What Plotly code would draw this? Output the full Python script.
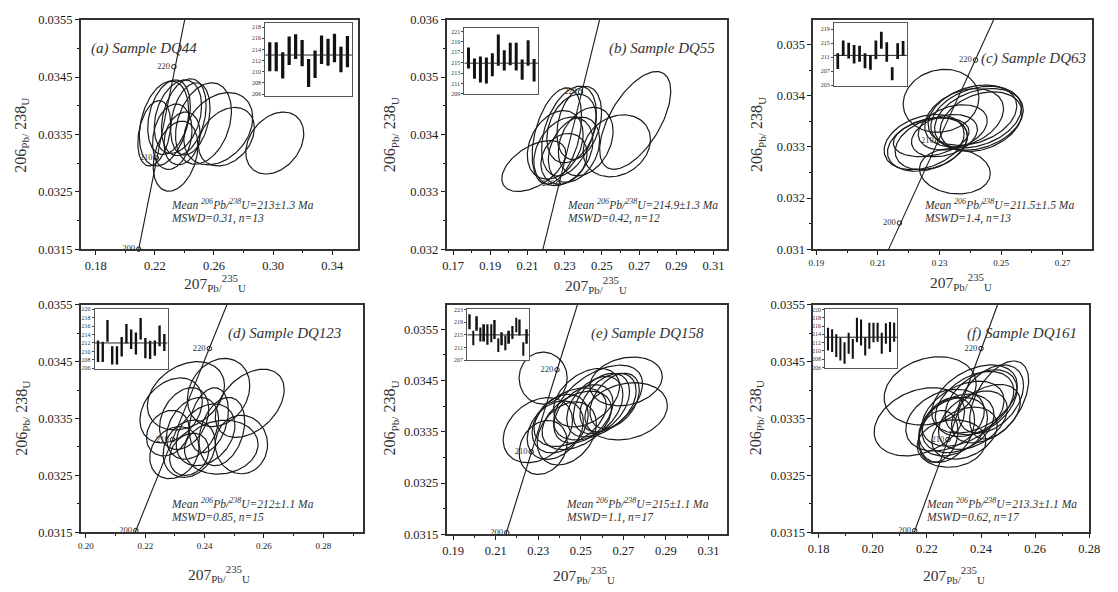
import numpy as np
import plotly.graph_objects as go

W, H = 1118, 592

# ---------------- data ----------------
# ellipses: [207Pb/235U centre, 206Pb/238U centre, x half-width, y half-height, rho]
ELL_A = [
    [0.2196, 0.03352, 0.0111, 0.00057, 0.3], [0.2262, 0.03369, 0.0167, 0.00074, 0.3],
    [0.2296, 0.03380, 0.0144, 0.00065, 0.3], [0.2356, 0.03381, 0.0160, 0.00064, 0.3],
    [0.2396, 0.03380, 0.0151, 0.00067, 0.3], [0.2440, 0.03377, 0.0133, 0.00063, 0.3],
    [0.2529, 0.03369, 0.0189, 0.00071, 0.3], [0.2629, 0.03360, 0.0233, 0.00063, 0.3],
    [0.2684, 0.03346, 0.0189, 0.00051, 0.3], [0.3011, 0.03335, 0.0196, 0.00054, 0.3],
    [0.2340, 0.03312, 0.0151, 0.00061, 0.3], [0.2318, 0.03346, 0.0133, 0.00057, 0.2],
    [0.2384, 0.03343, 0.0122, 0.00046, 0.2],
]
ELL_B = [
    [0.2134, 0.033449, 0.0172, 0.000443, 0.5], [0.2679, 0.034244, 0.0191, 0.000852, 0.6],
    [0.2580, 0.033801, 0.0181, 0.000540, 0.2], [0.2258, 0.033972, 0.0133, 0.000840, 0.4],
    [0.2323, 0.034057, 0.0147, 0.000784, 0.4], [0.2337, 0.034102, 0.0133, 0.000597, 0.3],
    [0.2249, 0.033818, 0.0150, 0.000597, 0.3], [0.2293, 0.033705, 0.0159, 0.000597, 0.3],
    [0.2350, 0.033733, 0.0138, 0.000568, 0.3], [0.2413, 0.033875, 0.0147, 0.000597, 0.3],
    [0.2296, 0.033574, 0.0124, 0.000443, 0.2], [0.2378, 0.034199, 0.0120, 0.000636, 0.3],
]
ELL_C = [
    [0.2305, 0.033902, 0.0123, 0.000616, 0.1], [0.2350, 0.032524, 0.0115, 0.000444, -0.1],
    [0.2250, 0.033095, 0.0130, 0.000540, 0.3], [0.2261, 0.033051, 0.0130, 0.000527, 0.3],
    [0.2407, 0.033622, 0.0144, 0.000590, 0.3], [0.2419, 0.033584, 0.0147, 0.000603, 0.3],
    [0.2428, 0.033540, 0.0144, 0.000603, 0.3], [0.2435, 0.033495, 0.0133, 0.000584, 0.3],
    [0.2380, 0.033571, 0.0128, 0.000571, 0.3], [0.2343, 0.033381, 0.0112, 0.000444, 0.3],
    [0.2316, 0.033222, 0.0107, 0.000413, 0.3], [0.2273, 0.033190, 0.0123, 0.000381, 0.3],
    [0.2273, 0.033063, 0.0117, 0.000508, 0.3],
]
ELL_D = [
    [0.2447, 0.033957, 0.0105, 0.000600, 0.2], [0.2552, 0.033768, 0.0116, 0.000600, 0.4],
    [0.2287, 0.033643, 0.0105, 0.000571, 0.3], [0.2337, 0.033900, 0.0130, 0.000600, 0.3],
    [0.2524, 0.033043, 0.0088, 0.000514, 0.0], [0.2456, 0.032997, 0.0124, 0.000474, 0.1],
    [0.2298, 0.032900, 0.0083, 0.000457, 0.2], [0.2348, 0.032969, 0.0088, 0.000503, 0.2],
    [0.2331, 0.033500, 0.0083, 0.000543, 0.3], [0.2359, 0.033328, 0.0088, 0.000543, 0.3],
    [0.2403, 0.033214, 0.0099, 0.000543, 0.3], [0.2458, 0.033271, 0.0077, 0.000600, 0.3],
    [0.2276, 0.033243, 0.0072, 0.000400, 0.2], [0.2348, 0.032871, 0.0066, 0.000371, 0.2],
    [0.2414, 0.033471, 0.0066, 0.000571, 0.3],
]
ELL_E = [
    [0.2323, 0.034548, 0.0113, 0.000508, 0.0], [0.2298, 0.033532, 0.0163, 0.000635, 0.3],
    [0.2323, 0.033195, 0.0113, 0.000527, 0.2], [0.2713, 0.034484, 0.0170, 0.000476, 0.2],
    [0.2713, 0.033900, 0.0194, 0.000559, 0.2], [0.2581, 0.034071, 0.0209, 0.000730, 0.5],
    [0.2450, 0.033786, 0.0170, 0.000571, 0.4], [0.2481, 0.033722, 0.0163, 0.000571, 0.4],
    [0.2512, 0.033849, 0.0139, 0.000571, 0.4], [0.2566, 0.033989, 0.0132, 0.000590, 0.4],
    [0.2597, 0.034052, 0.0132, 0.000590, 0.4], [0.2628, 0.034071, 0.0132, 0.000571, 0.4],
    [0.2659, 0.034103, 0.0116, 0.000540, 0.4], [0.2403, 0.033659, 0.0132, 0.000571, 0.3],
    [0.2380, 0.033532, 0.0132, 0.000571, 0.3], [0.2434, 0.033468, 0.0139, 0.000616, 0.3],
    [0.2527, 0.034167, 0.0155, 0.000571, 0.4],
]
ELL_F = [
    [0.2212, 0.033986, 0.0170, 0.000600, 0.2], [0.2172, 0.033443, 0.0167, 0.000600, 0.3],
    [0.2467, 0.033826, 0.0109, 0.000686, 0.5], [0.2291, 0.033060, 0.0127, 0.000417, 0.1],
    [0.2376, 0.033843, 0.0158, 0.000600, 0.4], [0.2376, 0.033757, 0.0145, 0.000571, 0.4],
    [0.2400, 0.033786, 0.0133, 0.000571, 0.4], [0.2333, 0.033586, 0.0152, 0.000571, 0.4],
    [0.2297, 0.033357, 0.0127, 0.000514, 0.3], [0.2315, 0.033414, 0.0133, 0.000514, 0.3],
    [0.2273, 0.033300, 0.0103, 0.000571, 0.3], [0.2418, 0.033586, 0.0127, 0.000514, 0.4],
    [0.2370, 0.033471, 0.0127, 0.000514, 0.4], [0.2242, 0.033186, 0.0073, 0.000457, 0.2],
    [0.2339, 0.033243, 0.0121, 0.000457, 0.3], [0.2436, 0.033843, 0.0121, 0.000600, 0.4],
    [0.2267, 0.033471, 0.0145, 0.000543, 0.3],
]

# concordia: line end points and age ticks
CONC_LINE_X = [[0.2091, 0.2402], [0.2183, 0.2488], [0.2135, 0.2476],
               [0.2166, 0.2475], [0.2148, 0.2484], [0.2153, 0.2461]]
CONC_LINE_Y = [[0.0315, 0.0355], [0.032, 0.036], [0.031, 0.03549],
               [0.0315, 0.0355], [0.0315, 0.03598], [0.0315, 0.0355]]
CONC_AGES = [[200, 210, 220], [210, 220], [200, 210, 220],
             [200, 210, 220], [200, 210, 220], [200, 210, 220]]
CONC_PT_X = [[0.2091, 0.2210, 0.2329], [0.2266, 0.2385], [0.2170, 0.2294, 0.2417],
             [0.2168, 0.2292, 0.2416], [0.2152, 0.2267, 0.2388], [0.2155, 0.2278, 0.2400]]
CONC_PT_Y = [[0.0315, 0.03309, 0.03468], [0.03314, 0.03474], [0.03151, 0.03311, 0.0347],
             [0.03153, 0.03313, 0.03473], [0.03153, 0.03311, 0.03471], [0.03153, 0.03313, 0.03473]]

# weighted-mean insets: 206Pb/238U age error bars (Ma)
BAR_A_HI = [215.3, 215.3, 213.5, 216.3, 216.7, 215.7, 212.3, 213.8, 216.5, 215.9, 216.8, 214.5, 216.4]
BAR_A_LO = [210.1, 210.1, 208.8, 211.2, 212.3, 211.0, 207.3, 208.9, 211.4, 211.1, 211.7, 209.9, 210.8]
BAR_B_HI = [217.9, 215.8, 216.2, 216.0, 216.8, 220.4, 217.4, 218.8, 218.8, 215.6, 219.3, 215.7]
BAR_B_LO = [213.9, 211.9, 211.2, 211.0, 212.4, 214.4, 213.5, 214.5, 213.5, 211.7, 214.4, 211.4]
BAR_C_HI = [212.1, 215.8, 215.1, 214.5, 214.3, 212.1, 211.6, 215.8, 218.3, 215.3, 208.1, 215.0, 215.6]
BAR_C_LO = [207.6, 211.4, 210.6, 209.2, 209.7, 207.8, 207.4, 210.4, 213.4, 209.7, 204.4, 210.5, 211.4]
BAR_D_HI = [212.6, 212.3, 217.4, 211.2, 211.2, 213.4, 216.5, 215.2, 214.5, 217.9, 213.2, 212.5, 212.6, 216.1, 214.1]
BAR_D_LO = [207.5, 207.5, 212.3, 206.9, 206.9, 208.8, 211.9, 210.6, 209.3, 212.8, 208.4, 208.2, 209.0, 211.2, 210.1]
BAR_E_HI = [221.5, 216.3, 220.9, 217.3, 218.4, 218.4, 218.4, 219.7, 213.9, 215.8, 214.8, 216.3, 217.8, 220.4, 219.9, 212.7, 216.8]
BAR_E_LO = [216.8, 211.7, 216.3, 212.9, 212.9, 211.9, 212.7, 213.7, 209.6, 211.7, 210.1, 212.2, 213.7, 215.8, 214.8, 208.4, 212.2]
BAR_F_HI = [215.6, 215.2, 214.0, 213.2, 212.1, 214.4, 212.9, 218.0, 217.6, 213.3, 216.8, 216.8, 216.8, 214.4, 216.7, 217.0, 216.8]
BAR_F_LO = [210.1, 209.7, 208.5, 207.7, 206.9, 209.3, 208.1, 212.1, 211.3, 208.9, 210.5, 212.1, 212.2, 209.3, 211.7, 209.7, 212.2]
MEAN_AGE = [213, 214.9, 211.5, 212, 215, 213.3]

LABELS = ["(a) Sample DQ44", "(b) Sample DQ55", "(c) Sample DQ63",
          "(d) Sample DQ123", "(e) Sample DQ158", "(f) Sample DQ161"]
MEAN_TXT = ["213±1.3", "214.9±1.3", "211.5±1.5", "212±1.1", "215±1.1", "213.3±1.1"]
MSWD = ["0.31", "0.42", "1.4", "0.85", "1.1", "0.62"]
N_SPOTS = [13, 12, 13, 15, 17, 17]

ELLS = [ELL_A, ELL_B, ELL_C, ELL_D, ELL_E, ELL_F]
BARS_HI = [BAR_A_HI, BAR_B_HI, BAR_C_HI, BAR_D_HI, BAR_E_HI, BAR_F_HI]
BARS_LO = [BAR_A_LO, BAR_B_LO, BAR_C_LO, BAR_D_LO, BAR_E_LO, BAR_F_LO]

# ---------------- layout geometry (pixels) ----------------
MAIN_BOX = [(77, 358, 13, 248), (448, 732, 13, 248), (820, 1103, 13, 248),
            (77, 363, 305, 538), (448, 732, 305, 540), (820, 1100, 305, 538)]
INSET_BOX = [(264, 352, 16, 91), (466, 541, 21, 89), (841, 915, 16, 81),
             (91, 165, 309, 371), (469, 532, 309, 362), (832, 905, 309, 370)]
XRANGE = [[0.17, 0.3573], [0.1665, 0.317], [0.189, 0.2796],
          [0.1983, 0.2933], [0.1869, 0.3185], [0.178, 0.28]]
XTICK0 = [0.18, 0.17, 0.19, 0.20, 0.19, 0.18]
XDTICK = [0.04, 0.02, 0.02, 0.02, 0.02, 0.02]
XFONT = [12.5, 12.5, 9, 9, 12.5, 12.5]
YRANGE = [[0.0315, 0.0355], [0.032, 0.036], [0.031, 0.03549],
          [0.0315, 0.0355], [0.0315, 0.03598], [0.0315, 0.0355]]
YFMT = [".4f", ".3f", ".3f", ".4f", ".4f", ".4f"]
IYRANGE = [[205.7, 218.8], [209.0, 221.75], [202.7, 220.9],
           [205.8, 220.1], [206.9, 223.3], [205.8, 220.2]]
IYTICK0 = [206, 209, 203, 206, 207, 206]
IYDTICK = [2, 2, 4, 2, 4, 2]
LABEL_POS = [(85, 43), (611, 42), (988, 53), (224, 334), (592, 334), (974, 334)]
MEAN_POS = [(166, 202), (568, 202), (930, 202), (166, 508), (567, 508), (932, 508)]
XT_POS = [(213, 283), (600, 285), (970, 282), (217, 581), (587, 582), (963, 582)]
YT_POS = [(17, 131), (392, 131), (764, 131), (17, 421), (391, 421), (762, 421)]

SERIF = "Liberation Serif"
INK = "#1a1a1a"


def fx(p):
    return p / W


def fy(p):
    return 1 - p / H


fig = go.Figure()
layout = dict(width=W, height=H, margin=dict(l=0, r=0, t=0, b=0),
              paper_bgcolor="white", plot_bgcolor="white", showlegend=False,
              font=dict(family=SERIF, color=INK))
annotations = []
t = np.linspace(0, 2 * np.pi, 120)

for i in range(6):
    ax = i + 1
    xa, ya = ("x" if ax == 1 else f"x{ax}"), ("y" if ax == 1 else f"y{ax}")
    x0, x1, y0, y1 = MAIN_BOX[i]
    layout["xaxis" if ax == 1 else f"xaxis{ax}"] = dict(
        domain=[fx(x0), fx(x1)], range=XRANGE[i], anchor=ya, tick0=XTICK0[i], dtick=XDTICK[i],
        tickformat=".2f", ticks="outside", ticklen=4, tickwidth=1, tickcolor=INK,
        showline=True, linecolor="#333", linewidth=1.6, mirror=True, showgrid=False, zeroline=False,
        tickfont=dict(family=SERIF, size=XFONT[i], color=INK),
        minor=dict(ticks="outside", ticklen=2, tickcolor=INK, dtick=XDTICK[i] / 2, showgrid=False))
    layout["yaxis" if ax == 1 else f"yaxis{ax}"] = dict(
        domain=[fy(y1), fy(y0)], range=YRANGE[i], anchor=xa, tick0=YRANGE[i][0], dtick=0.001,
        tickformat=YFMT[i], ticks="outside", ticklen=4, tickwidth=1, tickcolor=INK,
        showline=True, linecolor="#333", linewidth=1.6, mirror=True, showgrid=False, zeroline=False,
        tickfont=dict(family=SERIF, size=12.5, color=INK),
        minor=dict(ticks="outside", ticklen=2, tickcolor=INK, dtick=0.0005, showgrid=False))

    # ellipses
    ex, ey = [], []
    for cx, cy, hx, hy, r in ELLS[i]:
        ex += list(cx + hx * np.cos(t)) + [None]
        ey += list(cy + hy * (r * np.cos(t) + np.sqrt(1 - r * r) * np.sin(t))) + [None]
    fig.add_trace(go.Scatter(x=ex, y=ey, mode="lines", line=dict(color=INK, width=1.2),
                             xaxis=xa, yaxis=ya, hoverinfo="skip"))
    # concordia
    fig.add_trace(go.Scatter(x=CONC_LINE_X[i], y=CONC_LINE_Y[i], mode="lines",
                             line=dict(color=INK, width=1.1), xaxis=xa, yaxis=ya, cliponaxis=True))
    fig.add_trace(go.Scatter(x=CONC_PT_X[i], y=CONC_PT_Y[i], mode="markers+text",
                             text=[str(a) for a in CONC_AGES[i]], textposition="middle left",
                             textfont=dict(family=SERIF, size=8.5, color="#333"),
                             marker=dict(symbol="circle-open", size=4.5, color=INK, line=dict(width=1)),
                             xaxis=xa, yaxis=ya, cliponaxis=False))

    # inset
    iax = i + 7
    ixa, iya = f"x{iax}", f"y{iax}"
    ix0, ix1, iy0, iy1 = INSET_BOX[i]
    n = len(BARS_HI[i])
    idx = list(range(1, n + 1))
    layout[f"xaxis{iax}"] = dict(domain=[fx(ix0), fx(ix1)], range=[0.3, n + 0.7], anchor=iya,
                                 showticklabels=False, ticks="", showline=True, linecolor="#555",
                                 linewidth=1, mirror=True, showgrid=False, zeroline=False)
    layout[f"yaxis{iax}"] = dict(domain=[fy(iy1), fy(iy0)], range=IYRANGE[i], anchor=ixa,
                                 tick0=IYTICK0[i], dtick=IYDTICK[i], ticks="outside", ticklen=2,
                                 tickcolor="#444", showline=True, linecolor="#555", linewidth=1,
                                 mirror=True, showgrid=False, zeroline=False,
                                 tickfont=dict(family=SERIF, size=6, color="#333"))
    fig.add_trace(go.Bar(x=idx, y=[h - l for h, l in zip(BARS_HI[i], BARS_LO[i])], base=BARS_LO[i],
                         width=0.5, marker=dict(color="#111", line=dict(width=0)),
                         xaxis=ixa, yaxis=iya, hoverinfo="skip"))
    fig.add_trace(go.Scatter(x=[0.3, n + 0.7], y=[MEAN_AGE[i], MEAN_AGE[i]], mode="lines",
                             line=dict(color="#222", width=1), xaxis=ixa, yaxis=iya))

    # texts
    lx, ly = LABEL_POS[i]
    annotations.append(dict(x=fx(lx), y=fy(ly), xref="paper", yref="paper", xanchor="left",
                            yanchor="middle", showarrow=False, text=f"<i>{LABELS[i]}</i>",
                            font=dict(family=SERIF, size=15, color="#333")))
    mx, my = MEAN_POS[i]
    annotations.append(dict(x=fx(mx), y=fy(my), xref="paper", yref="paper", xanchor="left",
                            yanchor="middle", showarrow=False,
                            text=f"<i>Mean <sup>206</sup>Pb/<sup>238</sup>U={MEAN_TXT[i]} Ma</i>",
                            font=dict(family=SERIF, size=11.5, color="#333")))
    annotations.append(dict(x=fx(mx), y=fy(my + 15), xref="paper", yref="paper", xanchor="left",
                            yanchor="middle", showarrow=False,
                            text=f"<i>MSWD={MSWD[i]}, n={N_SPOTS[i]}</i>",
                            font=dict(family=SERIF, size=11.5, color="#333")))
    tx, ty = XT_POS[i]
    annotations.append(dict(x=fx(tx), y=fy(ty), xref="paper", yref="paper", xanchor="center",
                            yanchor="middle", showarrow=False,
                            text="207<sub>Pb/</sub><sup>235</sup><sub>U</sub>",
                            font=dict(family=SERIF, size=15.5, color="#333")))
    vx, vy = YT_POS[i]
    annotations.append(dict(x=fx(vx), y=fy(vy), xref="paper", yref="paper", xanchor="center",
                            yanchor="middle", showarrow=False, textangle=-90,
                            text="206<sub>Pb/</sub> 238<sub>U</sub>",
                            font=dict(family=SERIF, size=16, color="#333")))

layout["annotations"] = annotations
fig.update_layout(**layout)
fig.write_html("out.html", config={"displayModeBar": False},
               post_script="document.body.style.margin='0';document.body.style.overflow='hidden';")
